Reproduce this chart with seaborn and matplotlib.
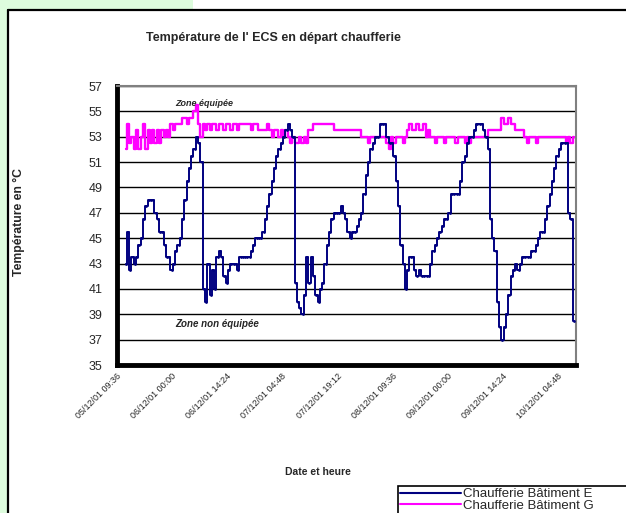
import numpy as np
import pandas as pd
import matplotlib
matplotlib.use("Agg")
import matplotlib.pyplot as plt
import seaborn as sns
from matplotlib.patches import Rectangle
from matplotlib.lines import Line2D

# ---------------- data ----------------
series_names = ["Chaufferie Bâtiment E", "Chaufferie Bâtiment G"]
tick_labels = ["05/12/01 09:36", "06/12/01 00:00", "06/12/01 14:24",
               "07/12/01 04:48", "07/12/01 19:12", "08/12/01 09:36",
               "09/12/01 00:00", "09/12/01 14:24", "10/12/01 04:48"]
tick_step_day = 0.6            # 14h24 between labelled ticks
x_span_day = 5.0
sample_start_day = 0.1         # first reading, days after 05/12/01 09:36
sample_step_day = 0.025        # sampling interval (36 min)

temp_E = [
    43.0, 45.5, 42.5, 43.5,  43.0, 43.5, 44.5, 45.0,  46.5, 47.5, 48.0, 48.0,
    48.0, 47.0, 46.5, 45.5,  45.5, 44.5, 43.5, 43.5,  42.5, 43.0, 44.0, 44.5,
    45.0, 46.5, 48.0, 49.5,  50.5, 51.5, 52.0, 53.0,  52.5, 51.0, 41.0, 40.0,
    43.0, 40.5, 42.5, 41.0,  43.5, 44.0, 43.5, 42.0,  41.5, 42.5, 43.0, 43.0,
    43.0, 42.5, 43.5, 43.5,  43.5, 43.5, 43.5, 44.0,  44.5, 45.0, 45.0, 45.0,
    45.5, 46.5, 47.5, 48.5,  49.5, 50.5, 51.5, 52.0,  52.5, 53.0, 53.5, 54.0,
    53.5, 53.0, 41.5, 40.0,  39.5, 39.0, 40.5, 43.5,  41.5, 43.5, 42.0, 40.5,
    40.0, 41.0, 41.5, 43.0,  44.5, 45.5, 46.5, 47.0,  47.0, 47.0, 47.5, 47.0,
    46.5, 45.5, 45.0, 45.5,  45.5, 46.0, 46.5, 47.0,  48.5, 50.0, 51.0, 52.0,
    52.5, 53.0, 53.0, 54.0,  54.0, 54.0, 53.0, 52.5,  52.5, 51.5, 49.5, 47.5,
    44.5, 43.0, 41.0, 42.5,  43.5, 43.5, 42.5, 42.0,  42.5, 42.0, 42.0, 42.0,
    42.0, 43.0, 44.0, 44.5,  45.0, 45.5, 46.0, 46.5,  46.5, 47.0, 48.5, 48.5,
    48.5, 48.5, 49.5, 51.0,  51.5, 52.5, 53.0, 53.0,  53.5, 54.0, 54.0, 54.0,
    53.5, 53.0, 52.0, 46.5,  45.0, 44.0, 40.0, 38.0,  37.0, 38.0, 39.0, 40.5,
    42.0, 42.5, 43.0, 42.5,  43.0, 43.5, 43.5, 43.5,  43.5, 44.0, 44.0, 44.5,
    45.0, 45.5, 45.5, 46.5,  47.5, 48.5, 49.5, 50.5,  51.5, 52.0, 52.5, 52.5,
    52.5, 47.0, 46.5, 38.5,
]

temp_G = [
    52.0, 54.0, 52.5, 53.0,  52.0, 53.5, 52.0, 53.0,  54.0, 52.0, 53.5, 52.5,
    53.5, 52.5, 53.5, 52.5,  53.5, 53.0, 53.5, 53.0,  54.0, 53.5, 54.0, 54.0,
    54.0, 54.5, 54.5, 54.0,  54.5, 54.5, 55.0, 55.5,  54.0, 53.0, 54.0, 53.5,
    54.0, 53.5, 54.0, 54.0,  53.5, 54.0, 54.0, 53.5,  54.0, 54.0, 53.5, 54.0,
    54.0, 53.5, 54.0, 54.0,  54.0, 54.0, 54.0, 53.5,  54.0, 54.0, 53.5, 53.5,
    53.5, 53.5, 54.0, 53.5,  53.0, 53.5, 53.5, 53.0,  53.5, 53.0, 53.5, 53.0,
    52.5, 53.0, 52.5, 52.5,  53.0, 52.5, 53.0, 52.5,  53.5, 53.5, 54.0, 54.0,
    54.0, 54.0, 54.0, 54.0,  54.0, 54.0, 54.0, 53.5,  53.5, 53.5, 53.5, 53.5,
    53.5, 53.5, 53.5, 53.5,  53.5, 53.5, 53.5, 53.0,  53.0, 53.0, 52.5, 53.0,
    53.0, 53.0, 53.0, 53.0,  53.0, 53.0, 52.5, 52.0,  53.0, 52.5, 53.0, 53.0,
    53.0, 52.5, 53.0, 53.5,  54.0, 53.5, 53.5, 54.0,  53.5, 53.5, 54.0, 53.0,
    53.5, 53.0, 53.0, 52.5,  53.0, 53.0, 53.0, 52.5,  53.0, 53.0, 53.0, 53.0,
    52.5, 53.0, 53.0, 53.0,  52.5, 53.0, 52.5, 53.0,  53.0, 53.0, 53.0, 53.0,
    53.0, 53.0, 53.5, 53.5,  53.5, 53.5, 53.5, 53.5,  54.5, 54.0, 54.0, 54.5,
    54.0, 54.0, 53.5, 53.5,  53.5, 53.5, 53.0, 52.5,  53.0, 53.0, 53.0, 52.5,
    53.0, 53.0, 53.0, 53.0,  53.0, 53.0, 53.0, 53.0,  53.0, 53.0, 53.0, 53.0,
    52.5, 53.0, 52.5, 53.0,
]

assert len(temp_E) == len(temp_G)
t_day = sample_start_day + sample_step_day * np.arange(len(temp_E))
df = pd.DataFrame({
    "jour": np.concatenate([t_day, t_day]),
    "temp": temp_E + temp_G,
    "serie": [series_names[0]] * len(temp_E) + [series_names[1]] * len(temp_G),
})

# ---------------- style ----------------
sns.set_theme(style="white")
plt.rcParams["font.family"] = ["Liberation Sans", "DejaVu Sans"]

W, H = 626, 513
fig = plt.figure(figsize=(W / 100, H / 100), dpi=100)
fig.patch.set_facecolor("white")

green = "#DDFCDD"
fig.patches.append(Rectangle((0, 0), 8 / W, 1, transform=fig.transFigure,
                             facecolor=green, edgecolor="none", zorder=-5))
fig.patches.append(Rectangle((0, 1 - 10 / H), 193 / W, 10 / H, transform=fig.transFigure,
                             facecolor=green, edgecolor="none", zorder=-5))
fig.lines.append(Line2D([8 / W, 8 / W], [0, 1 - 10 / H], transform=fig.transFigure,
                        color="black", lw=1.6))
fig.lines.append(Line2D([8 / W, 1], [1 - 10 / H, 1 - 10 / H], transform=fig.transFigure,
                        color="black", lw=1.6))
# legend box, running past the right and bottom edges as in the source
fig.patches.append(Rectangle((398 / W, -0.1), 0.5, 0.1 + (513 - 486) / H,
                             transform=fig.transFigure, facecolor="white",
                             edgecolor="black", lw=1.2, zorder=1))

left, right, top, bottom = 116.5, 576, 86, 365
ax = fig.add_axes([left / W, 1 - bottom / H, (right - left) / W, (bottom - top) / H])
ax.set_facecolor("white")

colors = {series_names[0]: "#000080", series_names[1]: "#FF00FF"}
sns.lineplot(data=df[df["serie"] == series_names[1]], x="jour", y="temp",
             color=colors[series_names[1]], lw=1.7, drawstyle="steps-mid",
             ax=ax, zorder=3, legend=False)
sns.lineplot(data=df[df["serie"] == series_names[0]], x="jour", y="temp",
             color=colors[series_names[0]], lw=1.4, drawstyle="steps-mid",
             marker="o", markersize=2.0, markeredgewidth=0,
             ax=ax, zorder=4, legend=False)

ax.set_xlim(0, x_span_day)
ax.set_ylim(35, 57)
ax.set_yticks(np.arange(35, 58, 2))
ax.set_xticks(np.arange(len(tick_labels)) * tick_step_day)
ax.set_xticklabels(tick_labels, rotation=45, ha="right", rotation_mode="anchor",
                   fontsize=6.5)
ax.tick_params(axis="y", labelsize=9, pad=8)
ax.tick_params(axis="x", pad=3)
ax.tick_params(axis="both", length=4, width=1, color="black", direction="inout")
for tk in ax.yaxis.get_major_ticks() + ax.xaxis.get_major_ticks():
    tk.tick1line.set_marker("o")
    tk.tick1line.set_markersize(4.5)
    tk.tick1line.set_markerfacecolor("black")
    tk.tick1line.set_markeredgecolor("black")
ax.set_xlabel("")
ax.set_ylabel("")

ax.yaxis.grid(True, color="black", lw=1)
ax.xaxis.grid(False)
ax.set_axisbelow(True)

for s in ["left", "bottom"]:
    ax.spines[s].set_color("black")
    ax.spines[s].set_linewidth(3.5)
for s in ["top", "right"]:
    ax.spines[s].set_color("#808080")
    ax.spines[s].set_linewidth(1.5)

ax.text(0.95, 55.65, "Zone équipée", ha="center", va="center", fontsize=6.5,
        style="italic", weight="bold")
ax.text(1.1, 38.25, "Zone non équipée", ha="center", va="center", fontsize=7,
        style="italic", weight="bold")

fig.text(273 / W, 1 - 38 / H, "Température de l' ECS en départ chaufferie",
         ha="center", va="center", fontsize=9, weight="bold")
fig.text(19 / W, 1 - 222 / H, "Température en °C", rotation=90,
         ha="center", va="center", fontsize=8.8, weight="bold")
fig.text(318 / W, 1 - 472 / H, "Date et heure", ha="center", va="center",
         fontsize=7.5, weight="bold")

handles = [Line2D([], [], color=colors[n], lw=1.5) for n in series_names]
fig.legend(handles, series_names, loc="upper left",
           bbox_to_anchor=(400 / W, 1 - 488 / H), frameon=False,
           fontsize=9.5, handlelength=4.6,
           handletextpad=0.2, borderpad=0.0, labelspacing=-0.05, borderaxespad=0)

fig.savefig("out.png", dpi=100)
